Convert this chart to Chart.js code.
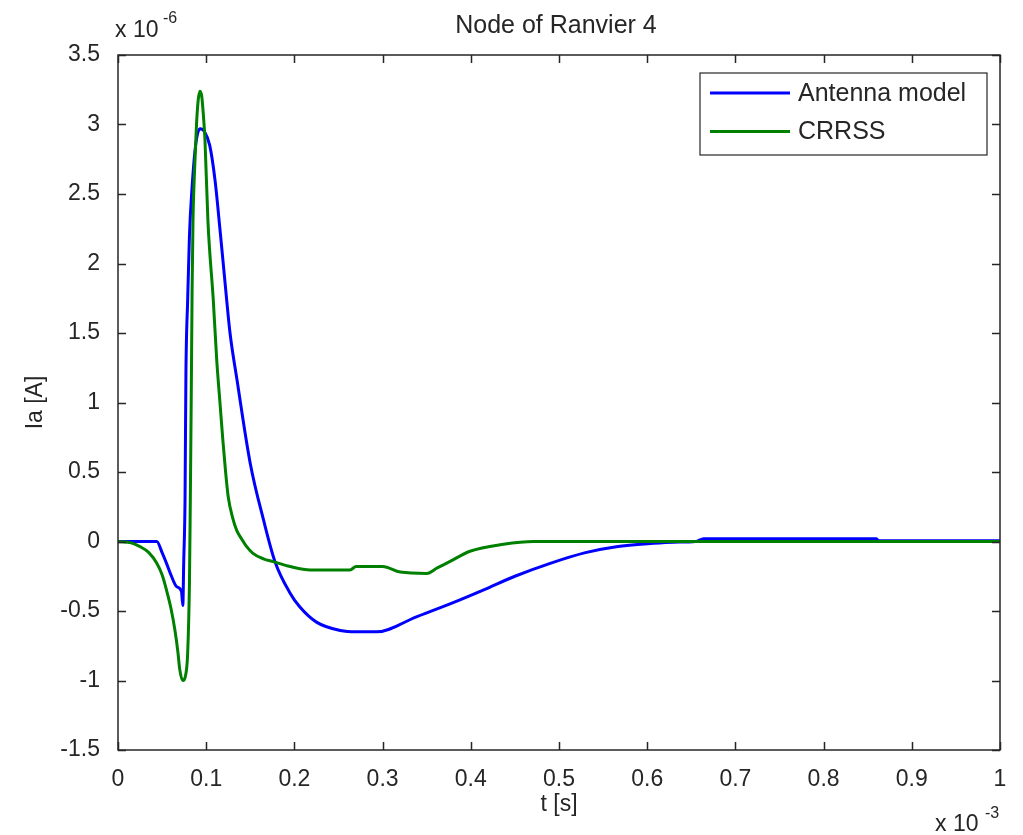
<!DOCTYPE html>
<html>
<head>
<meta charset="utf-8">
<script src="https://cdn.jsdelivr.net/npm/chart.js@4.4.1/dist/chart.umd.min.js"></script>
<style>
  html, body { margin: 0; padding: 0; background: #fff; }
</style>
</head>
<body>
<canvas id="chart" width="1023" height="835"></canvas>
<script>
/* global document, Chart */

// Time in units of 1e-3 s, current in units of 1e-6 A
const antennaT = [0, 0.02, 0.044, 0.05, 0.055, 0.06, 0.0665, 0.072, 0.0735, 0.0745, 0.076, 0.077, 0.079,
  0.081, 0.084, 0.088, 0.093, 0.098, 0.104, 0.110, 0.116, 0.122, 0.127, 0.135, 0.150, 0.165, 0.178,
  0.195, 0.206, 0.225, 0.252, 0.27, 0.293, 0.339, 0.38, 0.414, 0.45, 0.49, 0.53, 0.565, 0.607, 0.63,
  0.655, 0.664, 0.86, 0.862, 1.0];
const antennaI = [0, 0, 0, -0.08, -0.157, -0.24, -0.325, -0.36, -0.46, -0.15, 0.3, 1.2, 1.74,
  2.2, 2.55, 2.85, 2.97, 2.95, 2.85, 2.6, 2.22, 1.82, 1.5, 1.16, 0.56, 0.155, -0.145,
  -0.37, -0.47, -0.58, -0.64, -0.65, -0.65, -0.54, -0.44, -0.35, -0.25, -0.157, -0.08, -0.037, -0.013, -0.005,
  0, 0.02, 0.02, 0.005, 0.005];

const crrssT = [0, 0.015, 0.025, 0.035, 0.044, 0.05, 0.055, 0.06, 0.0646, 0.068, 0.070, 0.0733, 0.077,
  0.079, 0.081, 0.082, 0.083, 0.084, 0.085, 0.087, 0.089, 0.091, 0.093, 0.095, 0.097, 0.0986, 0.102,
  0.108, 0.112, 0.1156, 0.119, 0.122, 0.125, 0.13, 0.1346, 0.14, 0.145, 0.153, 0.165, 0.176, 0.195,
  0.218, 0.263, 0.27, 0.30, 0.32, 0.35, 0.362, 0.376, 0.399, 0.437, 0.471, 1.0];
const crrssI = [0, -0.01, -0.037, -0.08, -0.157, -0.24, -0.35, -0.48, -0.64, -0.8, -0.92, -1.0, -0.95,
  -0.8, -0.3, 0.3, 1.0, 1.8, 2.3, 2.7, 3.0, 3.18, 3.24, 3.2, 3.05, 2.89, 2.3,
  1.74, 1.3, 1.0, 0.72, 0.5, 0.32, 0.17, 0.08, 0.02, -0.03, -0.085, -0.125, -0.145, -0.18,
  -0.205, -0.205, -0.18, -0.18, -0.22, -0.23, -0.19, -0.145, -0.07, -0.02, 0, 0];

const seriesNames = ["Antenna model", "CRRSS"];
const chartTitle = "Node of Ranvier 4";
const xLabel = "t [s]";
const yLabel = "Ia [A]";
const xExponent = "-3";
const yExponent = "-6";

// Colors
const ink = "#262626";
const matlabBlue = "#0000ff";
const matlabGreen = "#008000";
const fontFamily = "'Liberation Sans', Arial, sans-serif";

const toPoints = (ts, vs) => ts.map((t, i) => ({x: t, y: vs[i]}));

// Box, inward tick marks, title and the "x 10^n" exponent labels
const matlabFrame = {
  id: "matlabFrame",
  afterDatasetsDraw(chart) {
    const {ctx, chartArea: a, scales: {x, y}} = chart;
    ctx.save();
    ctx.strokeStyle = ink;
    ctx.lineWidth = 1.5;
    ctx.strokeRect(a.left, a.top, a.right - a.left, a.bottom - a.top);
    ctx.beginPath();
    x.ticks.forEach(t => {
      const px = Math.round(x.getPixelForValue(t.value)) + 0.5;
      ctx.moveTo(px, a.bottom); ctx.lineTo(px, a.bottom - 8);
      ctx.moveTo(px, a.top); ctx.lineTo(px, a.top + 8);
    });
    y.ticks.forEach(t => {
      const py = Math.round(y.getPixelForValue(t.value)) + 0.5;
      ctx.moveTo(a.left, py); ctx.lineTo(a.left + 8, py);
      ctx.moveTo(a.right, py); ctx.lineTo(a.right - 8, py);
    });
    ctx.stroke();

    ctx.fillStyle = ink;
    ctx.textAlign = "center";
    ctx.textBaseline = "middle";
    ctx.font = "25px " + fontFamily;
    ctx.fillText(chartTitle, (a.left + a.right) / 2 - 3, 26);

    ctx.textBaseline = "alphabetic";
    ctx.textAlign = "left";
    ctx.font = "23px " + fontFamily;
    ctx.fillText("x 10", a.left - 3, 37);
    ctx.fillText("x 10", 935, 831);
    ctx.font = "16px " + fontFamily;
    ctx.fillText(yExponent, a.left + 45, 23);
    ctx.fillText(xExponent, 985, 818);
    ctx.restore();
  }
};

// Legend box in the upper right corner of the axes
const boxLegend = {
  id: "boxLegend",
  afterDraw(chart) {
    const {ctx, chartArea: a} = chart;
    const left = a.right - 300, top = a.top + 18, w = 287, h = 82;
    ctx.save();
    ctx.fillStyle = "#fff";
    ctx.fillRect(left, top, w, h);
    ctx.strokeStyle = ink;
    ctx.lineWidth = 1.2;
    ctx.strokeRect(left, top, w, h);
    ctx.font = "25px " + fontFamily;
    ctx.textBaseline = "middle";
    chart.data.datasets.forEach((ds, i) => {
      const ly = top + 20 + i * 38.5;
      ctx.strokeStyle = ds.borderColor;
      ctx.lineWidth = 3;
      ctx.beginPath();
      ctx.moveTo(left + 10, ly);
      ctx.lineTo(left + 90, ly);
      ctx.stroke();
      ctx.fillStyle = ink;
      ctx.fillText(ds.label, left + 98, ly + 1);
    });
    ctx.restore();
  }
};

const tickFont = {family: fontFamily, size: 23};

new Chart(document.getElementById("chart"), {
  type: "line",
  data: {
    datasets: [
      {
        label: seriesNames[0],
        data: toPoints(antennaT, antennaI),
        borderColor: matlabBlue,
        borderWidth: 3,
        order: 1
      },
      {
        label: seriesNames[1],
        data: toPoints(crrssT, crrssI),
        borderColor: matlabGreen,
        borderWidth: 3,
        order: 0
      }
    ]
  },
  options: {
    responsive: false,
    animation: false,
    parsing: false,
    elements: {
      point: {radius: 0},
      line: {cubicInterpolationMode: "monotone", fill: false, borderJoinStyle: "round"}
    },
    layout: {padding: {left: 0, right: 23, top: 55, bottom: 0}},
    plugins: {
      legend: {display: false},
      tooltip: {enabled: false}
    },
    scales: {
      x: {
        type: "linear",
        min: 0,
        max: 1,
        grid: {display: false},
        border: {display: false},
        ticks: {
          stepSize: 0.1,
          padding: 8,
          color: ink,
          font: tickFont,
          maxRotation: 0,
          callback: value => String(+value.toFixed(1))
        },
        title: {
          display: true,
          text: xLabel,
          color: ink,
          font: {family: fontFamily, size: 23},
          padding: {top: 0, bottom: 17}
        },
        afterFit: scale => {
          scale.height = 85;
          scale.paddingLeft = 0;
          scale.paddingRight = 0;
        }
      },
      y: {
        type: "linear",
        min: -1.5,
        max: 3.5,
        grid: {display: false},
        border: {display: false},
        ticks: {
          stepSize: 0.5,
          padding: 10,
          color: ink,
          font: tickFont,
          callback: value => String(+value.toFixed(1))
        },
        title: {
          display: true,
          text: yLabel,
          color: ink,
          font: {family: fontFamily, size: 23},
          padding: {top: 22, bottom: 0}
        },
        afterFit: scale => {
          scale.width = 118;
          scale.paddingTop = 0;
          scale.paddingBottom = 0;
        }
      }
    }
  },
  plugins: [matlabFrame, boxLegend]
});
</script>
</body>
</html>
